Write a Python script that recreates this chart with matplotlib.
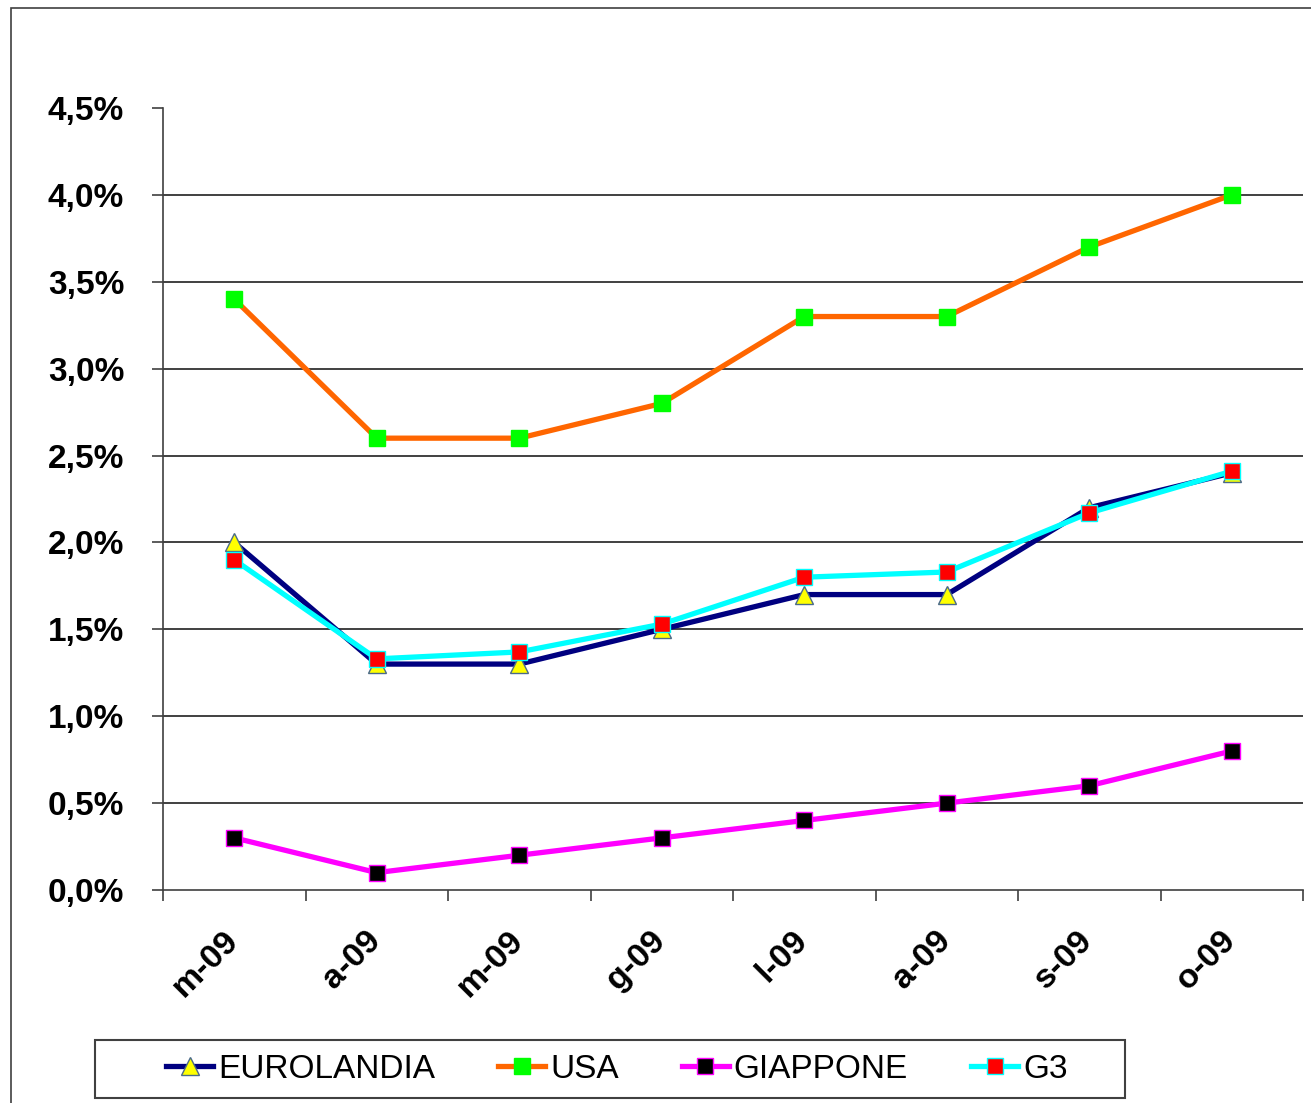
import matplotlib
matplotlib.use("Agg")
import matplotlib.pyplot as plt
from matplotlib.patches import Rectangle
from matplotlib.ticker import FixedLocator, FuncFormatter
from matplotlib.transforms import ScaledTranslation
import numpy as np

months = ["m-09", "a-09", "m-09", "g-09", "l-09", "a-09", "s-09", "o-09"]
eurolandia = [2.0, 1.3, 1.3, 1.5, 1.7, 1.7, 2.2, 2.4]
usa = [3.4, 2.6, 2.6, 2.8, 3.3, 3.3, 3.7, 4.0]
giappone = [0.3, 0.1, 0.2, 0.3, 0.4, 0.5, 0.6, 0.8]
g3 = [1.9, 1.33, 1.37, 1.53, 1.8, 1.83, 2.17, 2.41]
yticks = [0.0, 0.5, 1.0, 1.5, 2.0, 2.5, 3.0, 3.5, 4.0, 4.5]

plt.rcParams["font.family"] = ["Liberation Sans", "DejaVu Sans"]

W, H = 1311, 1103
fig = plt.figure(figsize=(W / 100, H / 100), dpi=100)
fig.patch.set_facecolor("white")

# outer frame of the original chart
fig.add_artist(Rectangle((11 / W, -0.01), 1.1, 1 - 8 / H + 0.01,
                         transform=fig.transFigure, fill=False,
                         edgecolor="#404040", linewidth=1.2))

ax = fig.add_axes([163 / W, 1 - 890 / H, (1303 - 163) / W, (890 - 108) / H])
x = np.arange(len(months))

series = [
    ("EUROLANDIA", eurolandia, "#000080", "^", "#FFFF00", "#4a6a8a", 13),
    ("USA", usa, "#FF6600", "s", "#00FF00", "#00FF00", 11),
    ("GIAPPONE", giappone, "#FF00FF", "s", "#000000", "#FF00FF", 11),
    ("G3", g3, "#00FFFF", "s", "#FF0000", "#00FFFF", 11),
]
for name, vals, col, mk, mfc, mec, ms in series:
    ax.plot(x, vals, color=col, linewidth=3.8, marker=mk, markersize=ms,
            markerfacecolor=mfc, markeredgecolor=mec, markeredgewidth=1.0,
            label=name, clip_on=False)

ax.set_xlim(-0.5, len(months) - 0.5)
ax.set_ylim(0, 4.5)
ax.yaxis.set_major_locator(FixedLocator(yticks))
ax.yaxis.set_major_formatter(FuncFormatter(lambda v, p: f"{v:.1f}%".replace(".", ",")))
for v in yticks[1:-1]:
    ax.axhline(v, color="#202020", linewidth=1.2, zorder=0.5)

ax.set_xticks(x)
ax.xaxis.set_minor_locator(FixedLocator(np.arange(-0.5, len(months), 1.0)))
ax.tick_params(axis="x", which="major", length=0, pad=25)
ax.tick_params(axis="x", which="minor", length=8, width=1.2, color="#404040")
ax.tick_params(axis="y", length=8, width=1.2, color="#404040", pad=20,
               labelsize=24)
ax.set_xticklabels(months, rotation=45, ha="right", va="top",
                   fontsize=24.5, fontweight="bold")
shift = ScaledTranslation(10 / 100, 0, fig.dpi_scale_trans)
for lab in ax.get_xticklabels():
    lab.set_transform(lab.get_transform() + shift)
for lab in ax.get_yticklabels():
    lab.set_fontweight("bold")

for s in ["top", "right"]:
    ax.spines[s].set_visible(False)
for s in ["left", "bottom"]:
    ax.spines[s].set_color("#404040")
    ax.spines[s].set_linewidth(1.2)

# legend box
fig.add_artist(Rectangle((95 / W, 1 - 1098 / H), (1125 - 95) / W, 58 / H,
                         transform=fig.transFigure, fill=False,
                         edgecolor="#404040", linewidth=1.5))
leg = fig.legend(loc="center", bbox_to_anchor=(617 / W, 1 - 1069 / H),
                 ncol=4, fontsize=24, frameon=False,
                 handlelength=1.4, handletextpad=0.15, columnspacing=1.9,
                 borderpad=0.0)

fig.savefig("out.png", dpi=100)
